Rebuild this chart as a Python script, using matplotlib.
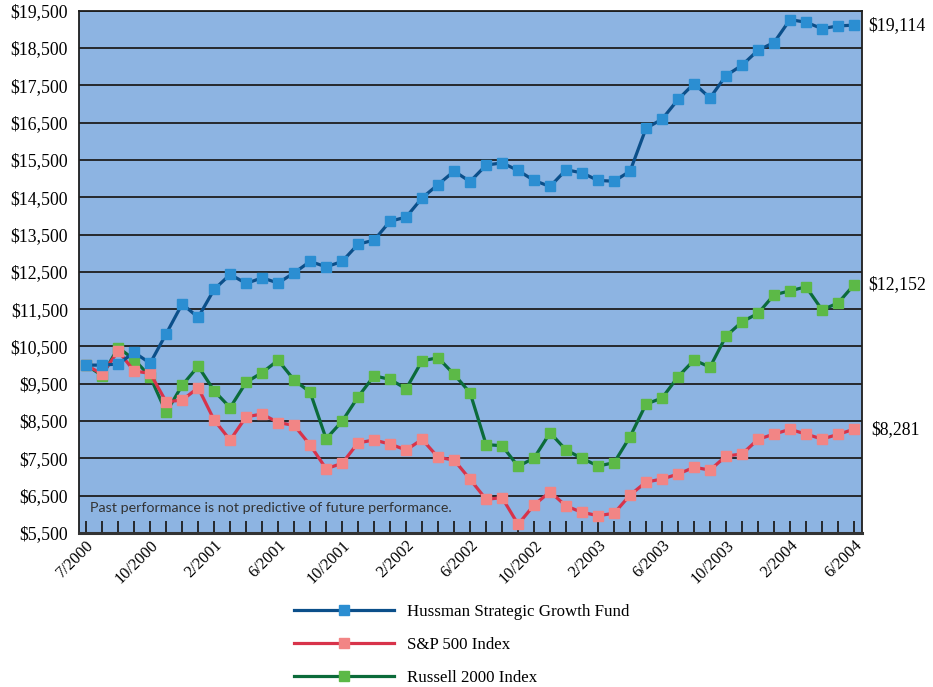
import matplotlib
matplotlib.use("Agg")
import matplotlib.pyplot as plt
import numpy as np

# month-end values of a $10,000 investment, 7/2000 (inception) .. 6/2004
x_labels = ["7/2000", "10/2000", "2/2001", "6/2001", "10/2001", "2/2002", "6/2002",
            "10/2002", "2/2003", "6/2003", "10/2003", "2/2004", "6/2004"]

hussman = [10000, 10000, 10030, 10340, 10050, 10840, 11640, 11280, 12030, 12430,
           12190, 12340, 12200, 12474, 12778, 12635, 12778, 13242, 13350, 13859,
           13966, 14483, 14841, 15198, 14920, 15360, 15422, 15217, 14949, 14788,
           15235, 15154, 14949, 14930, 15198, 16350, 16591, 17120, 17547, 17162,
           17762, 18038, 18440, 18646, 19262, 19190, 19020, 19091, 19114]

sp500 = [10000, 9760, 10380, 9840, 9780, 9017, 9063, 9393, 8527, 7991,
         8616, 8688, 8460, 8385, 7857, 7223, 7367, 7919, 7991, 7884,
         7724, 8010, 7528, 7456, 6938, 6403, 6447, 5733, 6250, 6606,
         6223, 6054, 5965, 6027, 6518, 6866, 6946, 7080, 7260, 7188,
         7563, 7617, 8010, 8152, 8278, 8152, 8018, 8143, 8281]

russell = [10000, 9720, 10470, 10150, 9690, 8730, 9460, 9970, 9310, 8860,
           9540, 9800, 10130, 9600, 9275, 8025, 8495, 9150, 9714, 9617,
           9366, 10116, 10197, 9751, 9259, 7870, 7839, 7286, 7509, 8187,
           7724, 7501, 7295, 7384, 8080, 8956, 9117, 9688, 10135, 9947,
           10778, 11161, 11386, 11884, 11991, 12099, 11483, 11662, 12152]

end_labels = ["$19,114", "$12,152", "$8,281"]

SERIF = "Liberation Serif"


def main():
    fig = plt.figure(figsize=(9.33, 6.87), dpi=100)
    ax = fig.add_axes([79 / 933, 1 - 533 / 687, (862 - 79) / 933, (533 - 10.7) / 687])
    ax.set_facecolor("#8db4e2")

    x = np.arange(len(hussman))
    ms = 7.8
    lw = 2.3
    l3, = ax.plot(x, russell, color="#0b6b3a", lw=lw, marker="s", ms=ms,
                  mfc="#5cb947", mec="#5cb947", zorder=3)
    l2, = ax.plot(x, sp500, color="#d8334a", lw=lw, marker="s", ms=ms,
                  mfc="#f28585", mec="#f28585", zorder=4)
    l1, = ax.plot(x, hussman, color="#0b4f8a", lw=lw, marker="s", ms=ms,
                  mfc="#2b8ed2", mec="#2b8ed2", zorder=5)

    ax.set_ylim(5500, 19500)
    ax.set_xlim(-0.45, 48.5)
    yt = np.arange(5500, 19501, 1000)
    ax.set_yticks(yt)
    ax.set_yticklabels([f"${v:,}" for v in yt], fontfamily=SERIF, fontsize=12.8)
    ax.tick_params(axis="y", length=0, pad=8)
    ax.yaxis.grid(True, color="#1e1e1e", lw=1.3)
    ax.set_axisbelow(True)

    ax.set_xticks(np.arange(0, 49, 4))
    ax.set_xticklabels(x_labels, fontfamily=SERIF, fontsize=11.8, rotation=45,
                       ha="right", rotation_mode="anchor")
    ax.set_xticks(x, minor=True)
    ax.tick_params(axis="x", which="both", direction="in", length=9, width=1.3,
                   color="#1e1e1e", pad=3)
    for s in ax.spines.values():
        s.set_color("#1e1e1e")
        s.set_linewidth(1.3)
    ax.spines["bottom"].set_linewidth(2.2)
    ax.spines["bottom"].set_color("#333333")

    ax.text(0.014, 0.047, "Past performance is not predictive of future performance.",
            transform=ax.transAxes, fontfamily="Lato", fontsize=10.3, color="#333333",
            va="center", ha="left")

    # final values at the right edge
    for val, lab in zip([hussman[-1], russell[-1], sp500[-1]], end_labels):
        ax.annotate(lab, xy=(1, val), xycoords=("axes fraction", "data"),
                    xytext=(4.5 if lab != "$8,281" else 7, 0), textcoords="offset points",
                    fontfamily=SERIF, fontsize=12.8, va="center", ha="left")

    fig.legend([l1, l2, l3],
               ["Hussman Strategic Growth Fund", "S&P 500 Index", "Russell 2000 Index"],
               loc="upper left", bbox_to_anchor=(294 / 933, 1 - 604 / 687),
               frameon=False, prop={"family": SERIF, "size": 12.2},
               handlelength=5.9, handletextpad=0.75, labelspacing=1.0,
               borderpad=0, borderaxespad=0)

    fig.savefig("out.png", dpi=100)


if __name__ == "__main__":
    main()
